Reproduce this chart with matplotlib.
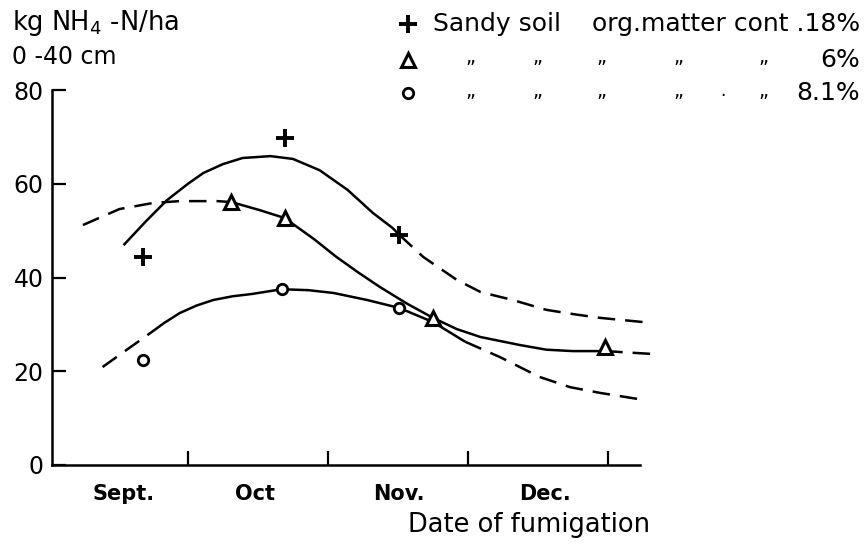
import matplotlib
matplotlib.use("Agg")
import matplotlib.pyplot as plt
from matplotlib.lines import Line2D

plt.rcParams['font.family'] = ['DejaVu Sans']

# ---- data (x in months after 1 Sept; y in kg NH4-N/ha) ----
month_labels = ["Sept.", "Oct", "Nov.", "Dec."]
month_ticks = [1, 2, 3, 4]

plus_x = [0.68, 1.69, 2.51]
plus_y = [44.4, 69.8, 49.1]
tri_x = [1.31, 1.69, 2.75, 3.98]
tri_y = [56.1, 52.7, 31.4, 25.2]
circ_x = [0.68, 1.67, 2.51]
circ_y = [22.4, 37.5, 33.5]

# hand-drawn fitted curves
plus_solid_x = [0.54, 0.70, 0.85, 1.00, 1.11, 1.25, 1.39, 1.59, 1.75, 1.94, 2.14, 2.32, 2.46, 2.51]
plus_solid_y = [46.9, 52.0, 56.5, 60.0, 62.3, 64.2, 65.5, 65.9, 65.3, 62.9, 58.7, 53.8, 50.6, 49.1]
plus_dash_x = [2.51, 2.68, 2.92, 3.09, 3.32, 3.56, 3.75, 3.94, 4.25]
plus_dash_y = [49.1, 44.4, 39.5, 36.9, 35.2, 33.1, 32.2, 31.4, 30.5]

tri_dash1_x = [0.25, 0.51, 0.75, 0.94, 1.21, 1.31]
tri_dash1_y = [51.2, 54.6, 55.9, 56.3, 56.3, 56.1]
tri_solid_x = [1.31, 1.51, 1.69, 1.90, 2.06, 2.22, 2.37, 2.56, 2.75, 2.92, 3.09, 3.37, 3.56, 3.75, 3.92, 3.98]
tri_solid_y = [56.1, 54.4, 52.7, 48.2, 44.4, 41.0, 38.0, 34.5, 31.4, 29.0, 27.3, 25.6, 24.6, 24.3, 24.3, 24.3]
tri_dash2_x = [3.98, 4.31]
tri_dash2_y = [24.3, 23.7]

circ_dash1_x = [0.39, 0.54, 0.71]
circ_dash1_y = [20.9, 24.1, 27.7]
circ_solid_x = [0.71, 0.83, 0.94, 1.06, 1.18, 1.32, 1.46, 1.67, 1.86, 2.04, 2.28, 2.51, 2.75, 2.98]
circ_solid_y = [27.7, 30.3, 32.4, 34.0, 35.2, 36.0, 36.5, 37.5, 37.3, 36.7, 35.2, 33.5, 30.5, 26.3]
circ_dash2_x = [2.98, 3.23, 3.51, 3.73, 3.94, 4.21]
circ_dash2_y = [26.3, 23.0, 18.8, 16.6, 15.4, 14.1]

yticks = [0, 20, 40, 60, 80]

# ---- figure ----
fig = plt.figure(figsize=(8.66, 5.45), dpi=100)
ax = fig.add_axes([0.0600, 0.1468, 0.679, 0.688])

lw = 1.8
dash = (7, 4)
kw = dict(color="black", lw=lw, clip_on=False, solid_capstyle="butt")
ax.plot(plus_solid_x, plus_solid_y, **kw)
ax.plot(plus_dash_x, plus_dash_y, dashes=dash, **kw)
ax.plot(tri_dash1_x, tri_dash1_y, dashes=dash, **kw)
ax.plot(tri_solid_x, tri_solid_y, **kw)
ax.plot(tri_dash2_x, tri_dash2_y, dashes=dash, **kw)
ax.plot(circ_dash1_x, circ_dash1_y, dashes=dash, **kw)
ax.plot(circ_solid_x, circ_solid_y, **kw)
ax.plot(circ_dash2_x, circ_dash2_y, dashes=dash, **kw)

ax.plot(plus_x, plus_y, ls="none", marker="+", ms=13, mew=2.8, color="black", zorder=5)
ax.plot(tri_x, tri_y, ls="none", marker="^", ms=10, mew=2.2, mfc="white", mec="black", zorder=5)
ax.plot(circ_x, circ_y, ls="none", marker="o", ms=7.5, mew=2.0, mfc="white", mec="black", zorder=5)

ax.set_xlim(0.0286, 4.2286)
ax.set_ylim(0, 80)
for s in ["top", "right"]:
    ax.spines[s].set_visible(False)
for s in ["left", "bottom"]:
    ax.spines[s].set_linewidth(1.8)

ax.set_yticks(yticks)
ax.set_yticklabels([str(v) for v in yticks])
ax.tick_params(axis="y", direction="in", length=10, width=1.6, labelsize=17, pad=6)
ax.set_xticks(month_ticks)
ax.set_xticklabels([])
ax.tick_params(axis="x", direction="in", length=10, width=1.6)
ax.set_xticks([0.54, 1.48, 2.51, 3.55], minor=True)
ax.set_xticklabels(month_labels, minor=True, fontsize=15, fontweight="semibold")
ax.tick_params(axis="x", which="minor", length=0, pad=14)

fig.text(0.751, 0.036, "Date of fumigation", ha="right", va="center", fontsize=18.5)

fig.text(0.014, 0.958, "kg NH$_4$ -N/ha", ha="left", va="center", fontsize=18.5)
fig.text(0.014, 0.895, "0 -40 cm", ha="left", va="center", fontsize=17)

# legend block
rows_y = [0.956, 0.890, 0.829]
mx = 0.471
fig.add_artist(Line2D([mx], [rows_y[0]], marker="+", ms=13, mew=2.8, color="black", ls="none", transform=fig.transFigure))
fig.add_artist(Line2D([mx], [rows_y[1]], marker="^", ms=10, mew=2.2, mfc="white", mec="black", ls="none", transform=fig.transFigure))
fig.add_artist(Line2D([mx], [rows_y[2]], marker="o", ms=7.5, mew=2.0, mfc="white", mec="black", ls="none", transform=fig.transFigure))
fig.text(0.5, rows_y[0], "Sandy soil", ha="left", va="center", fontsize=18)
fig.text(0.993, rows_y[0], "org.matter cont .18%", ha="right", va="center", fontsize=18)
for xx in [0.543, 0.620, 0.695, 0.783, 0.881]:
    fig.text(xx, rows_y[1] + 0.004, "„", ha="center", va="center", fontsize=14)
    fig.text(xx, rows_y[2] + 0.004, "„", ha="center", va="center", fontsize=14)
fig.text(0.835, rows_y[2] + 0.004, ".", ha="center", va="center", fontsize=12)
fig.text(0.993, rows_y[1], "6%", ha="right", va="center", fontsize=18)
fig.text(0.993, rows_y[2], "8.1%", ha="right", va="center", fontsize=18)

fig.savefig("out.png", dpi=100)
